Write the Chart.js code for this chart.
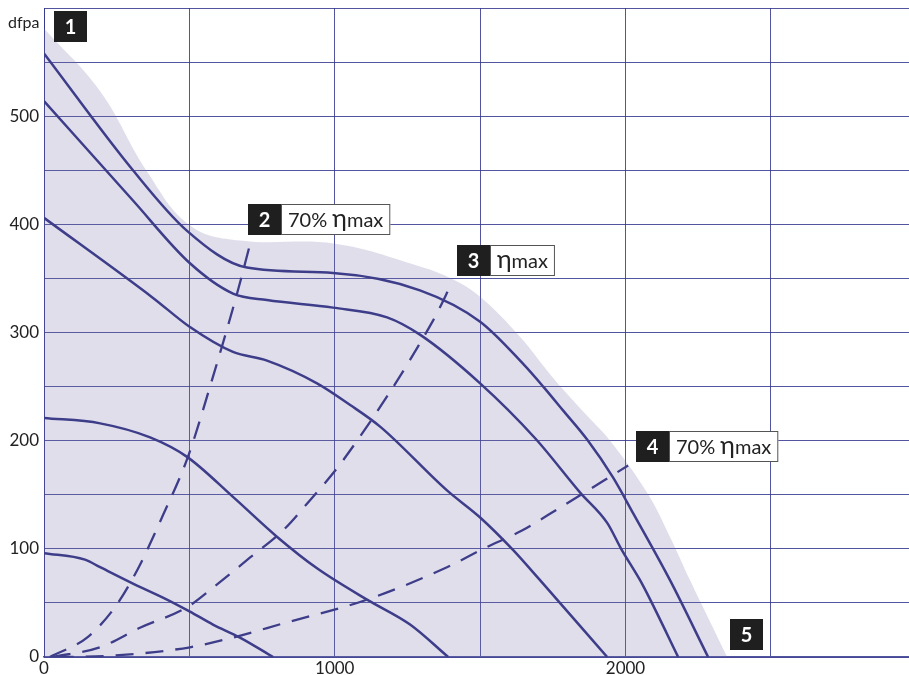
<!DOCTYPE html>
<html>
<head>
<meta charset="utf-8">
<script src="https://cdn.jsdelivr.net/npm/chart.js@4.4.0/dist/chart.umd.min.js"></script>
<style>
  html, body { margin: 0; padding: 0; background: #fff; }
  #wrap { width: 909px; height: 675px; }
</style>
</head>
<body>
<div id="wrap"><canvas id="fanChart" width="909" height="675"></canvas></div>
<script>
// axis ranges / ticks
const xMax = 2975;
const yMax = 600;
const xLabelTicks = [0, 1000, 2000];
const yLabelTicks = [0, 100, 200, 300, 400, 500];

// operating envelope (shaded area)
const envelope = [[0, 581], [193, 523], [354, 449], [502, 399], [674, 385], [1001, 382],
  [1293, 361], [1407, 349], [1500, 333], [1637, 296], [1751, 258], [1868, 223],
  [1947, 200], [2074, 152], [2153, 111], [2222, 71], [2350, 0]];

// fan curves, top to bottom
const curve1 = [[0, 558], [306, 450], [492, 394], [698, 360], [994, 355], [1293, 339],
  [1500, 310], [1648, 271], [1717, 250], [1785, 228], [1868, 201], [1957, 166],
  [2026, 133], [2153, 71], [2284, 0]];
const curve2 = [[0, 514], [306, 422], [502, 364], [650, 336], [767, 330], [994, 323],
  [1180, 314], [1293, 298], [1500, 253], [1690, 202], [1844, 152], [1937, 124],
  [1985, 100], [2050, 71], [2085, 53], [2181, 0]];
const curve3 = [[0, 406], [375, 332], [502, 305], [650, 282], [767, 274], [939, 253],
  [1053, 233], [1156, 213], [1386, 154], [1500, 129], [1613, 99], [1706, 71],
  [1937, 0]];
const curve4 = [[0, 221], [193, 216], [365, 203], [492, 185], [650, 148], [802, 111],
  [939, 82], [1111, 53], [1259, 30], [1390, 0]];
const curve5 = [[0, 96], [141, 90], [193, 83], [320, 66], [409, 55], [502, 42],
  [581, 30], [674, 18], [788, 0]];

// system lines (dashed)
const system70low = [[20, 0], [148, 18], [244, 46], [320, 80], [409, 131], [495, 185],
  [581, 259], [664, 336], [709, 382]];
const systemBest = [[30, 0], [193, 9], [330, 27], [492, 46], [581, 64], [709, 92],
  [822, 117], [915, 145], [1029, 182], [1338, 311], [1403, 346]];
const system70high = [[40, 0], [217, 1], [502, 9], [650, 18], [822, 31], [1111, 53],
  [1386, 83], [1510, 100], [1644, 117], [1768, 137], [2009, 177]];

// callout labels: number, text parts, anchor (data units, top-left of black box)
const callouts = [
  { num: '1', text: [], at: [34, 597] },
  { num: '2', text: ['70% ', '\u03b7', 'max'], at: [702, 419] },
  { num: '3', text: ['\u03b7', 'max'], at: [1421, 381] },
  { num: '4', text: ['70% ', '\u03b7', 'max'], at: [2036, 209] },
  { num: '5', text: [], at: [2360, 35] }
];

const navy = '#2c2e80';
const gridCol = 'rgba(52,54,142,0.85)';
const fontFam = 'Lato, "Open Sans", sans-serif';
const toPts = arr => arr.map(p => ({ x: p[0], y: p[1] }));

function solid(data) {
  return { data: toPts(data), borderColor: navy, borderWidth: 2.5, pointRadius: 0,
    fill: false, cubicInterpolationMode: 'monotone' };
}
function dashed(data) {
  return { data: toPts(data), borderColor: navy, borderWidth: 2.3, pointRadius: 0,
    fill: false, borderDash: [18, 12], cubicInterpolationMode: 'monotone' };
}

function partFont(p) {
  return p === '\u03b7' ? '25px ' + fontFam : '20px ' + fontFam;
}

const calloutPlugin = {
  id: 'callouts',
  afterDatasetsDraw(chart) {
    const ctx = chart.ctx;
    const xs = chart.scales.x, ys = chart.scales.y;
    ctx.save();
    callouts.forEach(c => {
      const x = Math.round(xs.getPixelForValue(c.at[0]));
      const y = Math.round(ys.getPixelForValue(c.at[1]));
      const h = 31, bw = 33;
      if (c.text.length) {
        let tw = 0;
        c.text.forEach(p => { ctx.font = partFont(p); tw += ctx.measureText(p).width; });
        const w = tw + 14;
        ctx.fillStyle = '#fff';
        ctx.fillRect(x + bw, y, w, h);
        ctx.strokeStyle = '#555';
        ctx.lineWidth = 1;
        ctx.strokeRect(x + bw + 0.5, y + 0.5, w - 1, h - 1);
        ctx.fillStyle = '#222';
        ctx.textBaseline = 'alphabetic';
        ctx.textAlign = 'left';
        let cx = x + bw + 7;
        c.text.forEach(p => {
          ctx.font = partFont(p);
          ctx.fillText(p, cx, y + h / 2 + 7);
          cx += ctx.measureText(p).width;
        });
      }
      ctx.fillStyle = '#1f1f1f';
      ctx.fillRect(x, y, bw, h);
      ctx.fillStyle = '#fff';
      ctx.font = 'bold 20px ' + fontFam;
      ctx.textAlign = 'center';
      ctx.textBaseline = 'middle';
      ctx.fillText(c.num, x + bw / 2, y + h / 2 + 1);
    });
    // unit label
    ctx.fillStyle = '#222';
    ctx.font = '16px ' + fontFam;
    ctx.textAlign = 'left';
    ctx.textBaseline = 'middle';
    ctx.fillText('dfpa', 8, 23);
    ctx.restore();
  }
};

new Chart(document.getElementById('fanChart').getContext('2d'), {
  type: 'line',
  data: {
    datasets: [
      { data: toPts(envelope), borderWidth: 0, pointRadius: 0, fill: 'origin',
        backgroundColor: 'rgba(120,113,170,0.23)', tension: 0.4 },
      solid(curve1), solid(curve2), solid(curve3), solid(curve4), solid(curve5),
      dashed(system70low), dashed(systemBest), dashed(system70high)
    ]
  },
  options: {
    responsive: false,
    animation: false,
    layout: { padding: { top: 8, right: 0, left: 0, bottom: 0 } },
    plugins: { legend: { display: false }, tooltip: { enabled: false } },
    scales: {
      x: {
        type: 'linear', min: 0, max: xMax,
        afterBuildTicks: s => { s.ticks = [0, 500, 1000, 1500, 2000, 2500].map(v => ({ value: v })); },
        afterFit: s => { s.height = 18; s.paddingLeft = 0; s.paddingRight = 0; },
        grid: { color: gridCol, lineWidth: 1, drawTicks: false },
        border: { color: gridCol, width: 1.5 },
        ticks: {
          padding: 1, color: '#222', maxRotation: 0, autoSkip: false,
          font: { family: fontFam, size: 17 },
          callback: v => xLabelTicks.includes(v) ? String(v) : ''
        }
      },
      y: {
        min: 0, max: yMax,
        afterFit: s => { s.width = 44; s.paddingTop = 0; s.paddingBottom = 0; },
        grid: { color: gridCol, lineWidth: 1, drawTicks: false },
        border: { color: gridCol, width: 1 },
        ticks: {
          stepSize: 50, padding: 5, color: '#222', autoSkip: false,
          font: { family: fontFam, size: 17 },
          callback: v => yLabelTicks.includes(v) ? String(v) : ''
        }
      }
    }
  },
  plugins: [calloutPlugin]
});
</script>
</body>
</html>
